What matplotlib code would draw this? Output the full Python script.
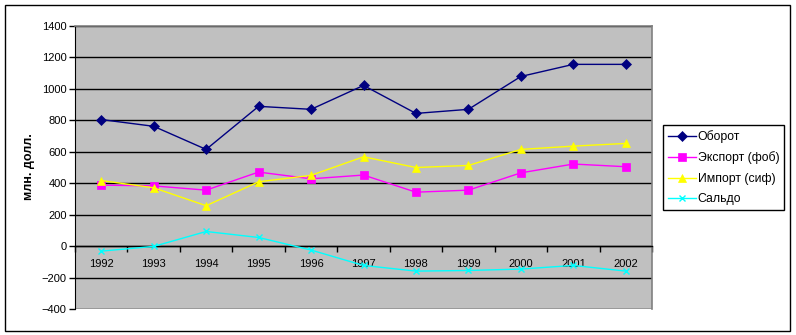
import matplotlib.pyplot as plt
from matplotlib.patches import Rectangle

plt.rcParams["font.family"] = ["Liberation Sans", "DejaVu Sans"]

# ── Данные (млн. долл.) ───────────────────────────────────────────────────────
years = ["1992", "1993", "1994", "1995", "1996", "1997",
         "1998", "1999", "2000", "2001", "2002"]
turnover = [805, 762, 615, 889, 870, 1022, 844, 870, 1079, 1156, 1156]
export_fob = [388, 383, 356, 471, 428, 452, 343, 356, 466, 522, 505]
import_cif = [417, 371, 257, 409, 450, 568, 500, 513, 615, 636, 653]
balance = [-32, -2, 93, 55, -25, -123, -159, -155, -146, -123, -159]

series = [
    ("Оборот", turnover, "#000080", "D", 5),
    ("Экспорт (фоб)", export_fob, "#FF00FF", "s", 5.5),
    ("Импорт (сиф)", import_cif, "#FFFF00", "^", 6),
    ("Сальдо", balance, "#00FFFF", "x", 4),
]

fig = plt.figure(figsize=(7.96, 3.35), dpi=100)
ax = fig.add_axes([75 / 796, 1 - 309 / 335, 577 / 796, 283 / 335])
ax.set_facecolor("#C0C0C0")

# рамка вокруг всей диаграммы
fig.patches.append(Rectangle((5 / 796, 4 / 335), 785 / 796, 326 / 335,
                             transform=fig.transFigure, fill=False,
                             edgecolor="black", linewidth=1))

x = list(range(len(years)))
for name, vals, color, marker, ms in series:
    ax.plot(x, vals, color=color, linewidth=1, marker=marker, markersize=ms,
            markerfacecolor=color, markeredgecolor=color,
            markeredgewidth=1 if marker == "x" else 0.5, label=name, zorder=3)

ax.set_xlim(-0.5, len(years) - 0.5)
ax.set_ylim(-400, 1400)
ax.set_yticks(range(-400, 1401, 200))
ax.yaxis.grid(True, color="black", linewidth=1)
ax.set_axisbelow(True)
ax.tick_params(axis="y", direction="out", length=4, width=1, labelsize=8,
               pad=2, color="black")

# ось категорий проходит через ноль, засечки между годами
ax.spines["bottom"].set_position(("data", 0))
ax.spines["bottom"].set_linewidth(1)
ax.set_xticks(x)
ax.set_xticklabels(years)
ax.set_xticks([i - 0.5 for i in range(len(years) + 1)], minor=True)
ax.tick_params(axis="x", which="major", length=0, labelsize=8, pad=9)
ax.tick_params(axis="x", which="minor", direction="out", length=4, width=1)

ax.spines["left"].set_color("black")
for side in ("top", "right"):
    ax.spines[side].set_color("#808080")
    ax.spines[side].set_linewidth(1.2)

fig.text(29 / 796, 1 - 167 / 335, "млн. долл.", rotation=90, fontsize=9,
         fontweight="bold", ha="center", va="center")

leg = ax.legend(loc="upper left", bbox_to_anchor=(663 / 796, 1 - 125 / 335),
                bbox_transform=fig.transFigure, borderaxespad=0,
                fontsize=8.8, frameon=True, fancybox=False, edgecolor="black",
                framealpha=1, handlelength=2.3, borderpad=0.4,
                labelspacing=0.7, handletextpad=0.15)
leg.get_frame().set_linewidth(1)

fig.savefig("out.png", dpi=100)
